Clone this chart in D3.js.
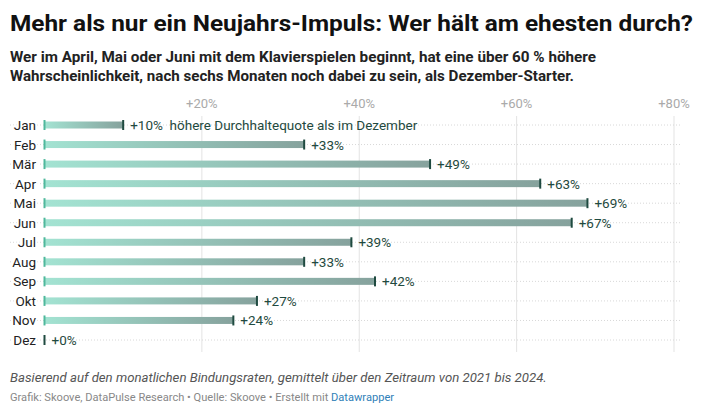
<!DOCTYPE html>
<html><head><meta charset="utf-8">
<script src="https://cdn.jsdelivr.net/npm/d3@7"></script>
<style>
body{margin:0;background:#fff;font-family:Roboto,"Noto Sans",sans-serif;}
</style></head>
<body><div id="chart"></div>
<script>
const months = ["Jan","Feb","Mär","Apr","Mai","Jun","Jul","Aug","Sep","Okt","Nov","Dez"];
const values = [10,33,49,63,69,67,39,33,42,27,24,0];
const tickValues = [20,40,60,80];
const tickLabels = ["+20%","+40%","+60%","+80%"];

const W=703,H=412;
const svg=d3.select("#chart").append("svg").attr("width",W).attr("height",H);
const defs=svg.append("defs");
const grad=defs.append("linearGradient").attr("id","g").attr("x1","0%").attr("x2","100%");
grad.append("stop").attr("offset","0%").attr("stop-color","#a3e3d2");
grad.append("stop").attr("offset","100%").attr("stop-color","#86a29d");

svg.append("text").attr("x",10).attr("y",31).text("Mehr als nur ein Neujahrs-Impuls: Wer hält am ehesten durch?")
  .attr("font-size",22.5).attr("font-weight",700).attr("fill","#111").attr("textLength",683).attr("lengthAdjust","spacingAndGlyphs");
svg.append("text").attr("x",10).attr("y",62).text("Wer im April, Mai oder Juni mit dem Klavierspielen beginnt, hat eine über 60 % höhere")
  .attr("font-size",14.5).attr("font-weight",700).attr("fill","#222").attr("textLength",586).attr("lengthAdjust","spacingAndGlyphs");
svg.append("text").attr("x",10).attr("y",81).text("Wahrscheinlichkeit, nach sechs Monaten noch dabei zu sein, als Dezember-Starter.")
  .attr("font-size",14.5).attr("font-weight",700).attr("fill","#222").attr("textLength",564).attr("lengthAdjust","spacingAndGlyphs");

const x=d3.scaleLinear().domain([0,80]).range([44.5,674]);
const y=d3.scalePoint().domain(months).range([125,340]);

svg.append("g").selectAll("line").data(tickValues).join("line")
  .attr("x1",d=>x(d)).attr("x2",d=>x(d)).attr("y1",116).attr("y2",352)
  .attr("stroke","#e3e3e3").attr("stroke-width",1);
svg.append("g").selectAll("text").data(tickValues).join("text")
  .attr("x",d=>x(d)).attr("y",108).attr("text-anchor","middle")
  .attr("font-size",13).attr("fill","#aaa").text((d,i)=>tickLabels[i]);

svg.append("g").selectAll("line").data(months).join("line")
  .attr("x1",10).attr("x2",682).attr("y1",d=>y(d)).attr("y2",d=>y(d))
  .attr("stroke","#d8d8d8").attr("stroke-dasharray","1,2").attr("stroke-width",1);

const lg=svg.append("g");
lg.selectAll("text").data(months).join("text")
  .attr("x",36).attr("y",d=>y(d)+5).attr("text-anchor","end")
  .attr("font-size",13.5).attr("fill","#222").text(d=>d)
  .attr("stroke","#fff").attr("stroke-width",4).attr("paint-order","stroke");

const data=months.map((m,i)=>({m,v:values[i]}));
const bars=svg.append("g");
bars.selectAll("rect").data(data.filter(d=>d.v>0)).join("rect")
  .attr("x",x(0)).attr("y",d=>y(d.m)-3.5).attr("width",d=>x(d.v)-x(0)).attr("height",7)
  .attr("fill","url(#g)");
bars.selectAll("line.s").data(data).join("line").attr("class","s")
  .attr("x1",x(0)).attr("x2",x(0)).attr("y1",d=>y(d.m)-5).attr("y2",d=>y(d.m)+5)
  .attr("stroke",d=>d.v>0?"#4fb89c":"#1f4a40").attr("stroke-width",2);
bars.selectAll("line.e").data(data.filter(d=>d.v>0)).join("line").attr("class","e")
  .attr("x1",d=>x(d.v)).attr("x2",d=>x(d.v)).attr("y1",d=>y(d.m)-5).attr("y2",d=>y(d.m)+5)
  .attr("stroke","#1f4a40").attr("stroke-width",2);
bars.selectAll("text").data(data).join("text")
  .attr("x",d=>x(d.v)+7).attr("y",d=>y(d.m)+5)
  .attr("font-size",13.5).attr("fill","#1f4a40")
  .text(d=>"+"+d.v+"%"+(d.m==="Jan"?"  höhere Durchhaltequote als im Dezember":""))
  .attr("xml:space","preserve");

svg.append("text").attr("x",10).attr("y",382).attr("font-size",13.2).attr("font-style","italic").attr("fill","#555")
  .text("Basierend auf den monatlichen Bindungsraten, gemittelt über den Zeitraum von 2021 bis 2024.");
const cr=svg.append("text").attr("x",10).attr("y",401).attr("font-size",11.1).attr("fill","#888");
cr.append("tspan").text("Grafik: Skoove, DataPulse Research • Quelle: Skoove • Erstellt mit ");
cr.append("tspan").attr("fill","#2f7fb8").text("Datawrapper");
</script></body></html>
